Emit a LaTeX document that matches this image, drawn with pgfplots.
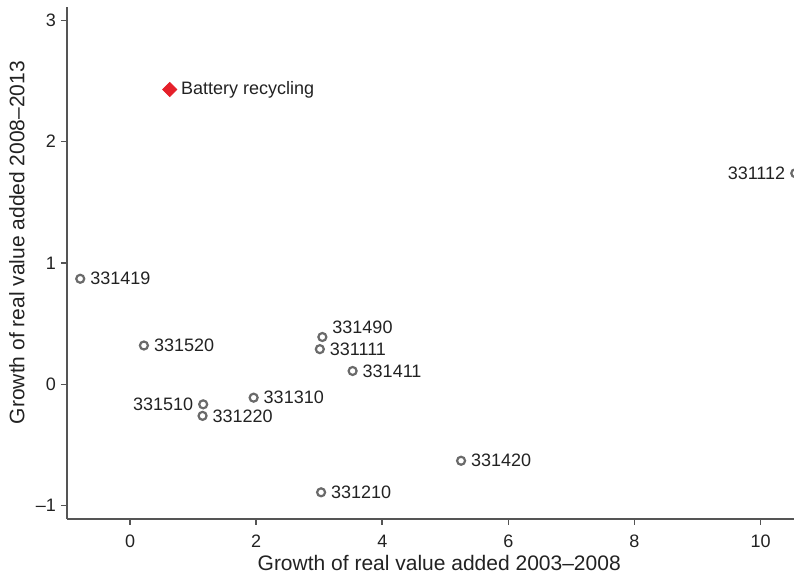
\documentclass[border=0pt]{standalone}
\usepackage{fontspec}
\setmainfont{Liberation Sans}
\usepackage{pgfplots}
\pgfplotsset{compat=1.18}
\definecolor{axisgray}{HTML}{555555}
\definecolor{markgray}{HTML}{6A6A6A}
\definecolor{batred}{HTML}{E5202A}
\definecolor{txt}{HTML}{222222}
\tikzset{lab/.style={inner sep=0pt, font=\fontsize{9}{10}\selectfont, text=txt}}
\pgfplotsset{circ/.style={only marks, mark=o, mark size=2pt, draw=markgray,
  line width=1.1pt, nodes near coords, point meta=explicit symbolic}}

\begin{document}
\begin{tikzpicture}[trim axis right]
\begin{axis}[
  width=363.5pt, height=256pt, scale only axis,
  xmin=-1.0, xmax=10.53, ymin=-1.11, ymax=3.11,
  axis lines*=left,
  axis line style={axisgray, line width=0.8pt},
  tick style={axisgray, line width=0.8pt},
  tick align=outside, major tick length=3pt,
  xtick={0,2,...,10}, ytick={-1,0,1,2,3},
  yticklabels={–1,0,1,2,3},
  /pgf/number format/assume math mode=true,
  ticklabel style={font=\fontsize{9}{10}\selectfont, text=txt},
  xticklabel style={yshift=-1.5pt},
  yticklabel style={xshift=1pt},
  xlabel={Growth of real value added 2003–2008},
  ylabel={Growth of real value added 2008–2013},
  label style={font=\fontsize{10.5}{12}\selectfont, text=txt},
  xlabel style={at={(axis description cs:0.512,-0.086)}, anchor=center},
  ylabel style={at={(axis description cs:-0.069,0.54)}, anchor=center},
  clip=false,
]
% industries, label on the right
\addplot[circ,
  every node near coord/.style={lab, anchor=west, xshift=4.5pt}]
  table[meta=label] {
  x     y      label
  -0.79  0.87  331419
  0.22   0.32  331520
  3.01   0.29  331111
  3.53   0.11  331411
  1.96  -0.11  331310
  1.15  -0.26  331220
  3.03  -0.89  331210
  5.25  -0.63  331420
  };
% label above right
\addplot[circ,
  every node near coord/.style={lab, anchor=west, xshift=4.5pt, yshift=5pt}]
  table[meta=label] {
  x     y      label
  3.05   0.39  331490
  };
% industries, label on the left
\addplot[circ,
  every node near coord/.style={lab, anchor=east, xshift=-4.5pt}]
  table[meta=label] {
  x     y      label
  1.16  -0.165 331510
  10.55  1.74  331112
  };
% battery recycling
\addplot[only marks, mark=square*, mark size=2.5pt, mark options={rotate=45},
  color=batred,
  nodes near coords, point meta=explicit symbolic,
  every node near coord/.style={lab, anchor=west, xshift=5.5pt}]
  table[meta=label] {
  x     y     label
  0.63  2.43  {Battery recycling}
  };
\end{axis}
\path ([shift={(-33.5pt,3.5pt)}]current axis.north west);
\path ([yshift=-29.5pt]current axis.south west);
\end{tikzpicture}
\end{document}
